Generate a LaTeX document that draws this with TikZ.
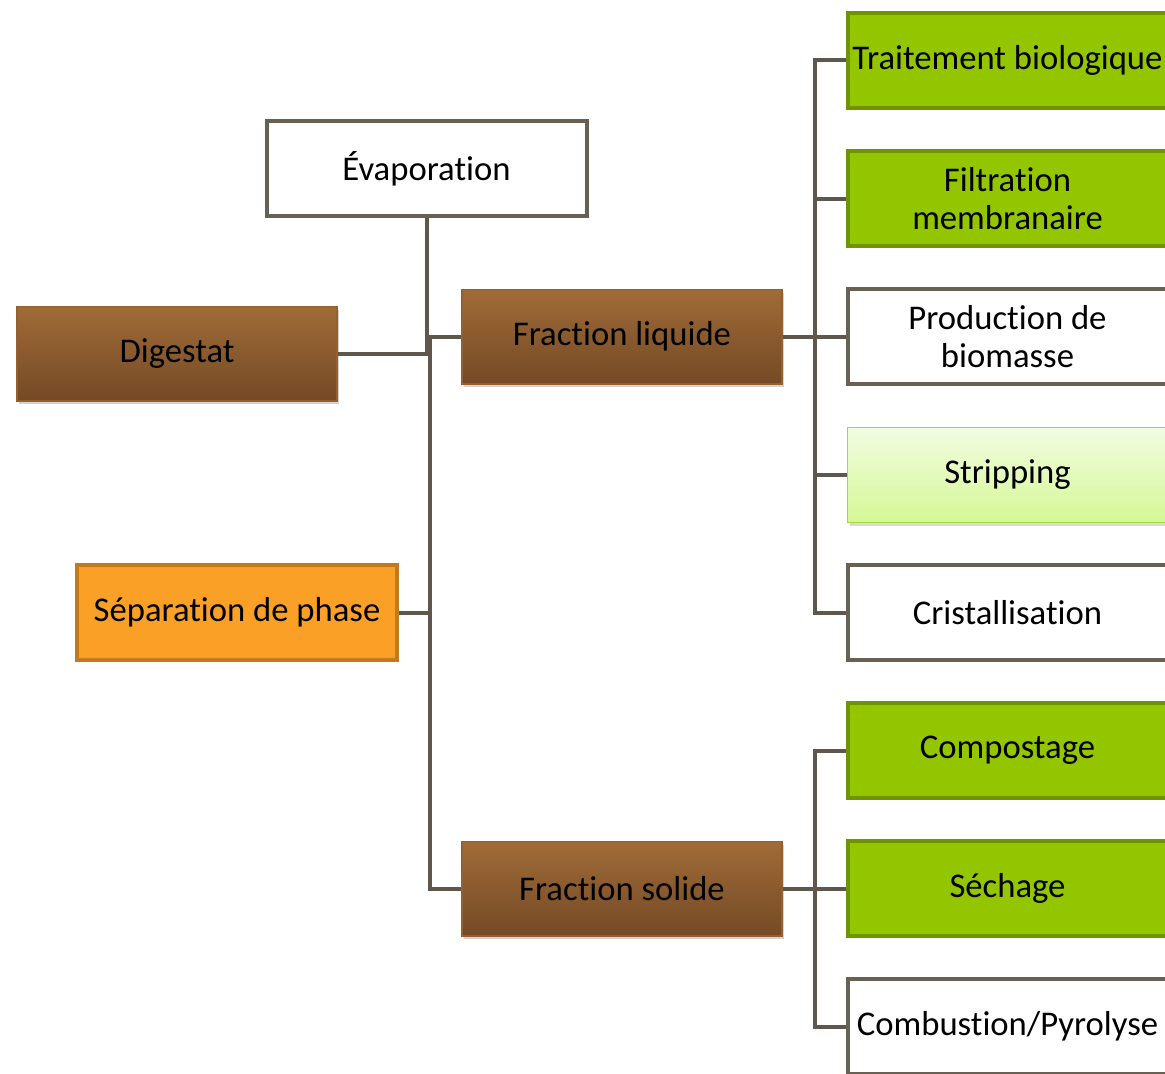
\documentclass[tikz,border=0pt]{standalone}
\usepackage{fontspec}
\setmainfont[Ligatures=NoCommon]{Carlito}
\usetikzlibrary{shadows}

\definecolor{linegray}{HTML}{5F574B}
\definecolor{boxgray}{HTML}{676053}
\definecolor{browntop}{HTML}{A06B37}
\definecolor{brownbot}{HTML}{744A26}
\definecolor{brownline}{HTML}{94602F}
\definecolor{leafgreen}{HTML}{94C600}
\definecolor{leafline}{HTML}{6E9400}
\definecolor{palegreentop}{HTML}{F2FCE2}
\definecolor{palegreenbot}{HTML}{D5F894}
\definecolor{paleline}{HTML}{A3D940}
\definecolor{orangefill}{HTML}{FBA026}
\definecolor{orangeline}{HTML}{C27A1E}

\begin{document}
\begin{tikzpicture}[x=0.75pt, y=-0.75pt,
    box/.style={rectangle, minimum width=240pt, minimum height=71pt, line width=3pt,
        align=center, inner sep=0pt, font=\fontsize{26}{28.5}\selectfont},
    whitebox/.style={box, draw=boxgray, fill=white},
    greenbox/.style={box, draw=leafline, fill=leafgreen},
    palebox/.style={box, draw=paleline, line width=1pt, top color=palegreentop, bottom color=palegreenbot,
        drop shadow={opacity=0.3, shadow xshift=1.5pt, shadow yshift=-2.5pt}},
    brownbox/.style={box, draw=brownline, line width=1pt, top color=browntop, bottom color=brownbot,
        drop shadow={opacity=0.35, shadow xshift=1.5pt, shadow yshift=-2.5pt}},
    orangebox/.style={box, draw=orangeline, fill=orangefill},
    link/.style={draw=linegray, line width=3pt}]

    \useasboundingbox (0,0) rectangle (1165,1074);

    % left part
    \node[whitebox] (evap) at (426.5,168.5) {Évaporation};
    \node[brownbox] (dig) at (177,353.5) {Digestat};
    \node[brownbox] (fliq) at (622,336.5) {Fraction liquide};
    \node[orangebox] (sep) at (237,612.5) {Séparation de phase};
    \node[brownbox] (fsol) at (622,888.5) {Fraction solide};
    \coordinate (trunk) at (430,353.5);

    % treatments of the liquid fraction
    \foreach \name/\y/\sty/\txt in {
        tb/60.5/greenbox/{Traitement biologique},
        fm/198.5/greenbox/{Filtration\\membranaire},
        pb/336.5/whitebox/{Production de\\biomasse},
        st/475/palebox/{Stripping},
        cr/612.5/whitebox/{Cristallisation}}
        \node[\sty] (\name) at (1007.5,\y) {\txt};

    % treatments of the solid fraction
    \foreach \name/\y/\sty/\txt in {
        co/750.5/greenbox/{Compostage},
        se/888.5/greenbox/{Séchage},
        cp/1026.5/whitebox/{Combustion/Pyrolyse}}
        \node[\sty] (\name) at (1007.5,\y) {\txt};

    \draw[link] (evap.south) -- (evap.south |- trunk);
    \draw[link] (dig.east) -- (trunk);
    \draw[link] (trunk) |- (fliq.west);
    \draw[link] (trunk) |- (fsol.west);
    \draw[link] (sep.east) -- (sep.east -| trunk);

    \foreach \n in {tb,fm,pb,st,cr}
        \draw[link] (fliq.east) -- ++(32,0) |- (\n.west);
    \foreach \n in {co,se,cp}
        \draw[link] (fsol.east) -- ++(32,0) |- (\n.west);
\end{tikzpicture}
\end{document}
